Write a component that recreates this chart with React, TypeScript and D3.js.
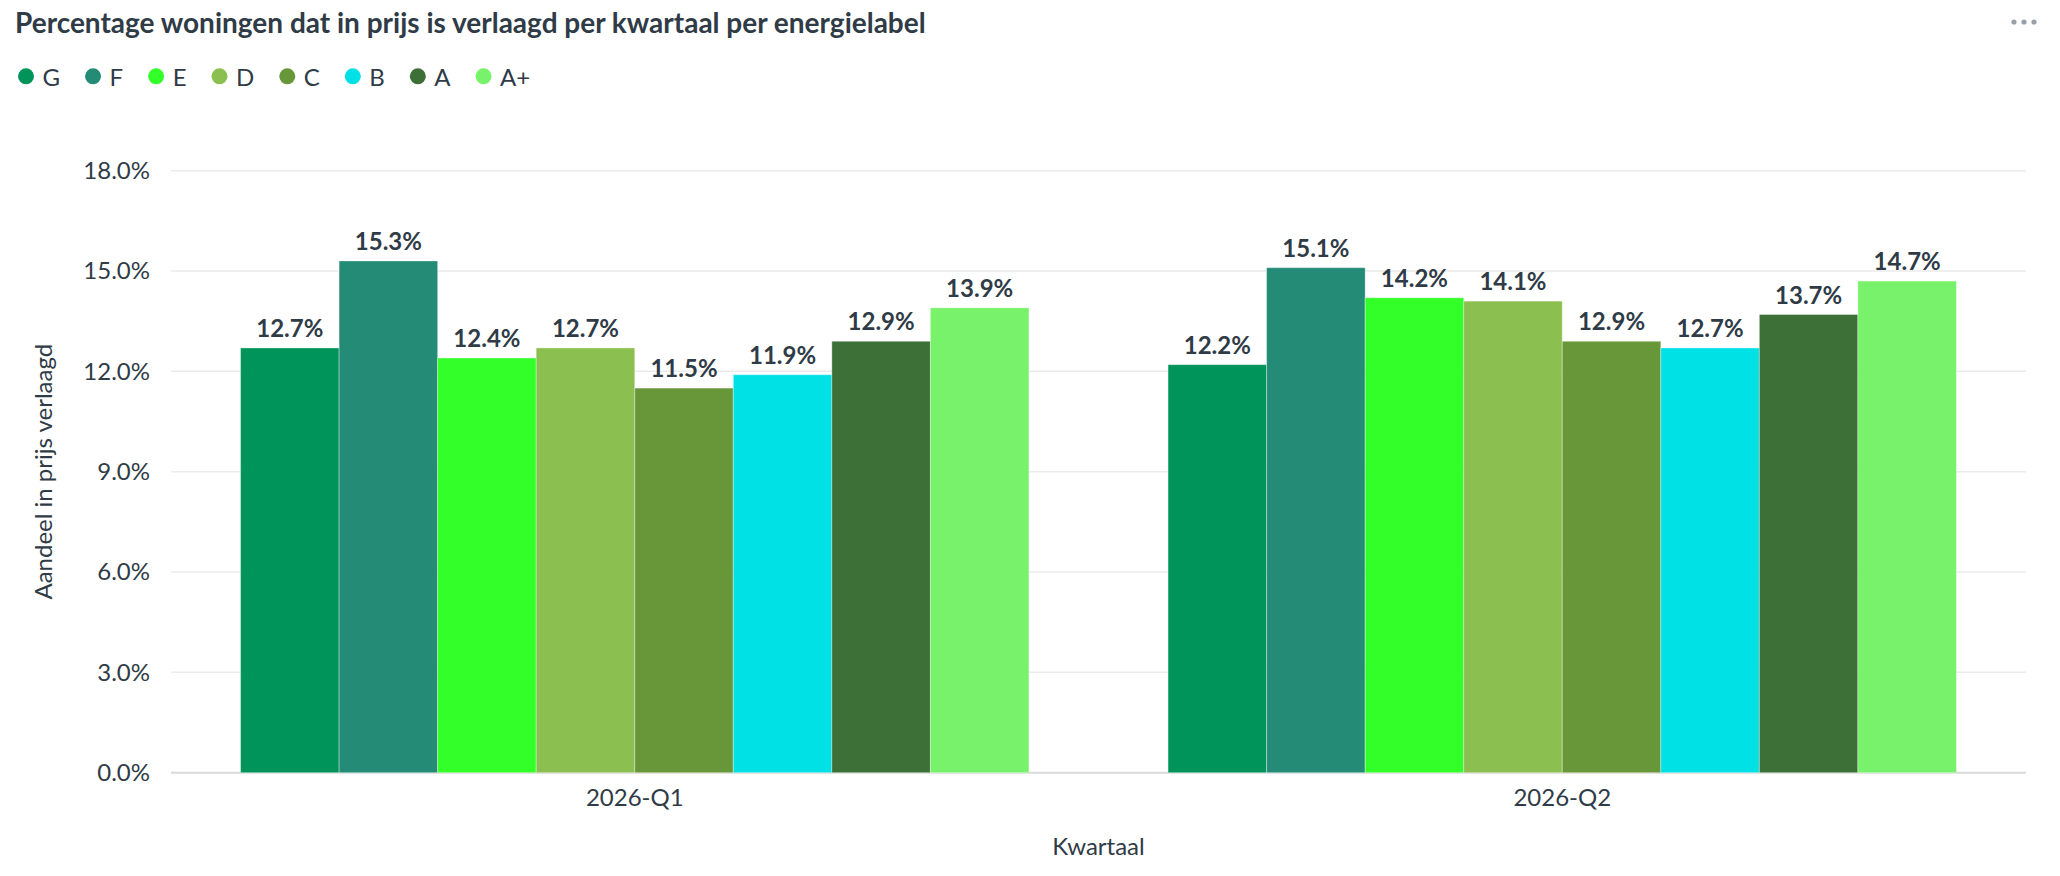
import React, { useEffect, useRef } from 'react';
import * as d3 from 'd3';

const quarters = ['2026-Q1', '2026-Q2'];
const labels = ['G', 'F', 'E', 'D', 'C', 'B', 'A', 'A+'];
const colors = ['#00945a', '#248b76', '#33ff29', '#8bbf4f', '#68973a', '#00e1e5', '#3c7036', '#78f26b'];
const q1Values = [12.7, 15.3, 12.4, 12.7, 11.5, 11.9, 12.9, 13.9];
const q2Values = [12.2, 15.1, 14.2, 14.1, 12.9, 12.7, 13.7, 14.7];
const yTicks = [0, 3, 6, 9, 12, 15, 18];

const W = 2060;
const H = 876;
const textColor = '#2f3b46';

function App() {
	const svgRef = useRef<SVGSVGElement>(null);

	useEffect(() => {
		document.body.style.margin = '0';
		const svg = d3.select(svgRef.current);
		svg.selectAll('*').remove();
		svg.style('font-family', 'Lato, sans-serif');

		const left = 171, right = 2026, top = 170.7, bottom = 772.7;
		const values = [q1Values, q2Values];

		const x0 = d3.scaleBand().domain(quarters).range([left, right]).paddingInner(0.15).paddingOuter(0.075);
		const x1 = d3.scaleBand().domain(labels).range([0, x0.bandwidth()]);
		const y = d3.scaleLinear().domain([0, 18]).range([bottom, top]);

		// title
		svg.append('text')
			.attr('x', 15).attr('y', 33)
			.attr('font-size', 28).attr('font-weight', 700)
			.attr('fill', textColor)
			.text('Percentage woningen dat in prijs is verlaagd per kwartaal per energielabel');

		// menu dots
		svg.selectAll('.dot').data([0, 1, 2]).join('circle')
			.attr('cx', (d) => 2014 + d * 10).attr('cy', 22).attr('r', 2.6)
			.attr('fill', '#9aa0a6');

		// legend
		const legend = svg.append('g');
		let lx = 18;
		labels.forEach((l, i) => {
			legend.append('circle')
				.attr('cx', lx + 8).attr('cy', 76.3).attr('r', 8)
				.attr('fill', colors[i]);
			const t = legend.append('text')
				.attr('x', lx + 24.5).attr('y', 85.5)
				.attr('font-size', 24).attr('fill', textColor)
				.text(l);
			const w = (t.node() as SVGTextElement).getComputedTextLength();
			lx = lx + 24.5 + w + 25;
		});

		// grid + y ticks
		svg.append('g').selectAll('line').data(yTicks).join('line')
			.attr('x1', left).attr('x2', right)
			.attr('y1', (d) => y(d)).attr('y2', (d) => y(d))
			.attr('stroke', (d) => (d === 0 ? '#d9d9d9' : '#ebebeb'))
			.attr('stroke-width', (d) => (d === 0 ? 2 : 1.5));

		svg.append('g').selectAll('text').data(yTicks).join('text')
			.attr('x', 150).attr('y', (d) => y(d))
			.attr('dy', '0.35em')
			.attr('text-anchor', 'end')
			.attr('font-size', 24).attr('fill', textColor)
			.text((d) => d3.format('.1f')(d) + '%');

		// y title
		svg.append('text')
			.attr('transform', `translate(52,${(top + bottom) / 2}) rotate(-90)`)
			.attr('text-anchor', 'middle')
			.attr('font-size', 24).attr('fill', textColor)
			.text('Aandeel in prijs verlaagd');

		// bars
		quarters.forEach((q, qi) => {
			const g = svg.append('g').attr('transform', `translate(${x0(q)},0)`);
			g.selectAll('rect').data(values[qi]).join('rect')
				.attr('x', (d, i) => x1(labels[i])!)
				.attr('y', (d) => y(d))
				.attr('width', x1.bandwidth())
				.attr('height', (d) => bottom - y(d))
				.attr('fill', (d, i) => colors[i])
				.attr('stroke', 'rgba(255,255,255,0.35)')
				.attr('stroke-width', 1);
			g.selectAll('text').data(values[qi]).join('text')
				.attr('x', (d, i) => x1(labels[i])! + x1.bandwidth() / 2)
				.attr('y', (d) => y(d) - 11)
				.attr('text-anchor', 'middle')
				.attr('font-size', 24).attr('font-weight', 700)
				.attr('fill', textColor)
				.text((d) => d.toFixed(1) + '%');
		});

		// x ticks
		svg.append('g').selectAll('text').data(quarters).join('text')
			.attr('x', (d) => x0(d)! + x0.bandwidth() / 2)
			.attr('y', 806)
			.attr('text-anchor', 'middle')
			.attr('font-size', 24).attr('fill', textColor)
			.text((d) => d);

		svg.append('text')
			.attr('x', (left + right) / 2).attr('y', 855)
			.attr('text-anchor', 'middle')
			.attr('font-size', 24).attr('fill', textColor)
			.text('Kwartaal');
	}, []);

	return <svg ref={svgRef} width={W} height={H} style={{ display: 'block', background: '#fff' }} />;
}

export default App;
